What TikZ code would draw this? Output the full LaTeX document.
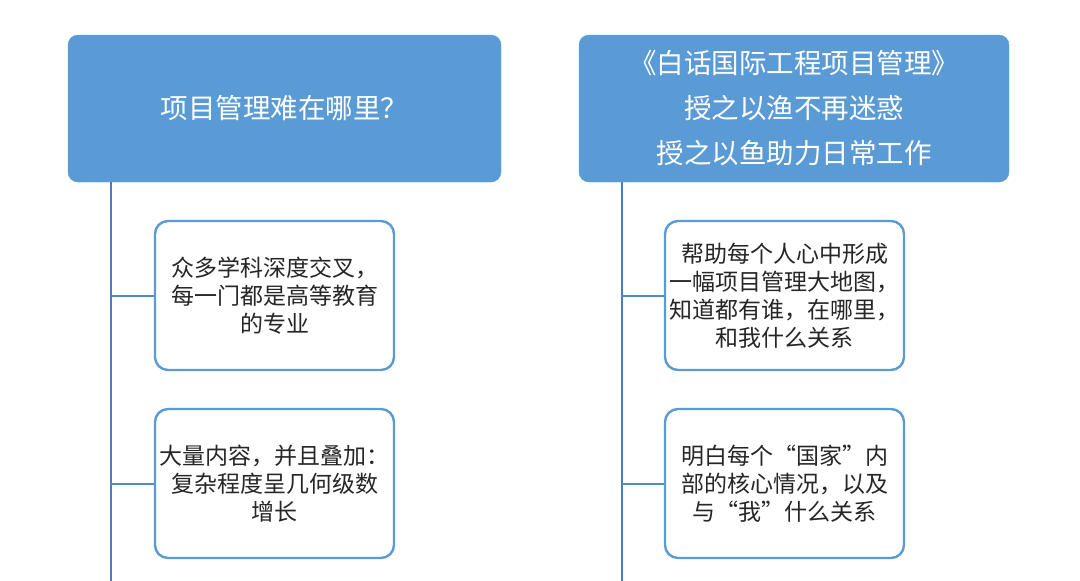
\documentclass[tikz,border=0pt]{standalone}
\usepackage{fontspec}
\setmainfont{Noto Sans CJK SC}
\usepackage{tikz}
\usetikzlibrary{positioning, calc}

\definecolor{hdrblue}{HTML}{5B9BD5}
\definecolor{trunkblue}{HTML}{4A7EBB}

\begin{document}
\begin{tikzpicture}[
  x=1pt, y=-1pt,
  hdr/.style={draw=hdrblue, fill=hdrblue, rounded corners=10pt, text=white,
    minimum height=147pt, align=center, inner sep=0pt,
    font=\fontsize{27.5}{45}\selectfont},
  itembox/.style={draw=hdrblue, line width=2.4pt, fill=white, rounded corners=13pt,
    minimum width=239pt, minimum height=149pt, align=center, inner sep=0pt,
    font=\fontsize{23}{28}\selectfont, text=black!85},
  trunk/.style={draw=trunkblue, line width=2.8pt},
  branch/.style={draw=hdrblue!90!black, line width=2pt}
  ]
  \useasboundingbox (0,0) rectangle (1080,581);

  % headers
  \node[hdr, minimum width=433pt] (lhead) at (284.5,108.5) {项目管理难在哪里？};
  \node[hdr, minimum width=430pt] (rhead) at (794,108.5)
    {《白话国际工程项目管理》\\授之以渔不再迷惑\\授之以鱼助力日常工作};

  % left column
  \node[itembox] (lbox1) at (274.5,295.5) {众多学科深度交叉，\\每一门都是高等教育\\的专业};
  \node[itembox] (lbox2) at (274.5,483.5) {大量内容，并且叠加：\\复杂程度呈几何级数\\增长};

  % right column
  \node[itembox] (rbox1) at (784.5,295.5) {帮助每个人心中形成\\一幅项目管理大地图，\\知道都有谁，在哪里，\\和我什么关系};
  \node[itembox] (rbox2) at (784.5,483.5) {明白每个“国家”内\\部的核心情况，以及\\与“我”什么关系};

  \coordinate (lend) at (111,581);
  \coordinate (rend) at (622,581);

  \draw[trunk] (lhead.south -| lend) -- (lend);
  \draw[trunk] (rhead.south -| rend) -- (rend);
  \draw[branch] (lbox1.west -| lend) -- (lbox1.west);
  \draw[branch] (lbox2.west -| lend) -- (lbox2.west);
  \draw[branch] (rbox1.west -| rend) -- (rbox1.west);
  \draw[branch] (rbox2.west -| rend) -- (rbox2.west);
\end{tikzpicture}
\end{document}
